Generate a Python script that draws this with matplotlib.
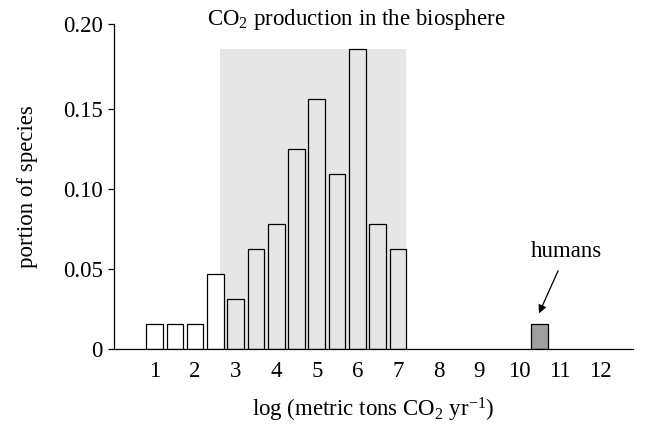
import matplotlib
matplotlib.use("Agg")
import matplotlib.pyplot as plt

plt.rcParams["font.family"] = ["Liberation Serif", "DejaVu Serif"]
plt.rcParams["mathtext.fontset"] = "custom"
plt.rcParams["mathtext.rm"] = "Liberation Serif"
plt.rcParams["mathtext.it"] = "Liberation Serif:italic"

# log10 CO2 production bins (half-decade steps) and portion of species
bin_pos = [1, 1.5, 2, 2.5, 3, 3.5, 4, 4.5, 5, 5.5, 6, 6.5, 7]
portion = [0.015625, 0.015625, 0.015625, 0.046875, 0.03125, 0.0625, 0.078125,
           0.125, 0.15625, 0.109375, 0.1875, 0.078125, 0.0625]
human_pos = [10.5]
human_portion = [0.015625]
span = (2.62, 7.21)          # shaded range
xticks = list(range(1, 13))
yticks = [0, 0.05, 0.10, 0.15]
ytick_labels = ["0", "0.05", "0.10", "0.15"]

SHADE = "#e6e6e6"
FS = 16.5

fig = plt.figure(figsize=(6.46, 4.26), dpi=100)
ax = fig.add_axes([0.1765, 0.1819, 0.8034, 0.7617])

ax.fill_between(span, 0, max(portion), color=SHADE, lw=0, zorder=0)
colors = ["white" if p < span[0] + 0.1 else SHADE for p in bin_pos]
ax.bar(bin_pos, portion, width=0.41, color=colors, edgecolor="black",
       linewidth=0.9, zorder=2)
ax.bar(human_pos, human_portion, width=0.41, color="#a0a0a0",
       edgecolor="black", linewidth=0.9, zorder=2)

ax.annotate("humans", xy=(10.48, 0.022), xytext=(11.17, 0.061),
            ha="center", va="center", fontsize=FS,
            arrowprops=dict(arrowstyle="-|>", color="black", lw=0.9,
                            mutation_scale=12, shrinkA=5, shrinkB=0))

ax.set_xlim(0, 12.8)
ytop = 0.2033
ax.set_ylim(0, ytop)
ax.set_xticks(xticks)
ax.set_yticks(yticks + [ytop])
ax.set_yticklabels(ytick_labels + ["0.20"])
ax.tick_params(axis="x", length=0, pad=9, labelsize=FS)
ax.tick_params(axis="y", length=4.5, width=0.9, pad=3.5, labelsize=FS)

for s in ("top", "right"):
    ax.spines[s].set_visible(False)
for s in ("left", "bottom"):
    ax.spines[s].set_linewidth(0.9)

ax.set_ylabel("portion of species", fontsize=FS, labelpad=18)
ax.set_xlabel("log (metric tons CO$_2$ yr$^{-1}$)", fontsize=FS, labelpad=10)
fig.text(356 / 646, 1 - 20 / 426, "CO$_2$ production in the biosphere",
         ha="center", va="center", fontsize=FS)

fig.savefig("out.png", dpi=100)
